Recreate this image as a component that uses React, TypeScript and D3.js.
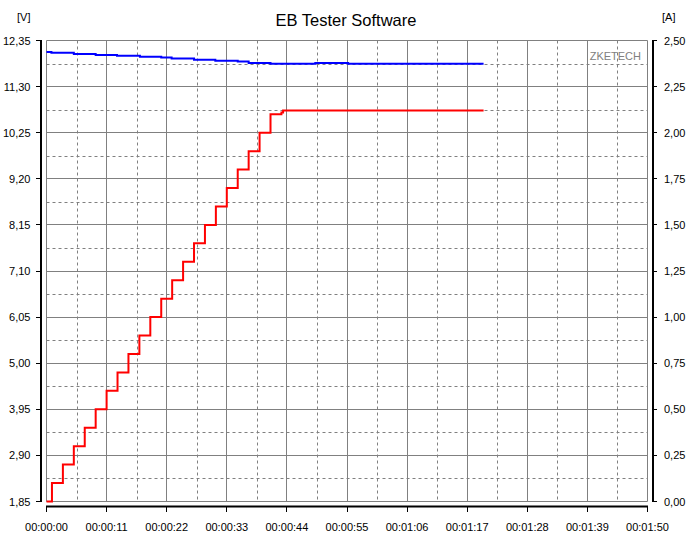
import React from "react";
import * as d3 from "d3";

// Time ticks (seconds) and labels
const timeTicks = [0, 11, 22, 33, 44, 55, 66, 77, 88, 99, 110];
const timeLabels = ["00:00:00", "00:00:11", "00:00:22", "00:00:33", "00:00:44", "00:00:55", "00:01:06", "00:01:17", "00:01:28", "00:01:39", "00:01:50"];
const voltTicks = [1.85, 2.9, 3.95, 5.0, 6.05, 7.1, 8.15, 9.2, 10.25, 11.3, 12.35];
const voltLabels = ["1,85", "2,90", "3,95", "5,00", "6,05", "7,10", "8,15", "9,20", "10,25", "11,30", "12,35"];
const ampTicks = [0, 0.25, 0.5, 0.75, 1.0, 1.25, 1.5, 1.75, 2.0, 2.25, 2.5];
const ampLabels = ["0,00", "0,25", "0,50", "0,75", "1,00", "1,25", "1,50", "1,75", "2,00", "2,25", "2,50"];

// Voltage series (step after)
const voltageT = [0, 0.9, 5, 9, 12.9, 17.1, 21, 22.9, 27, 30.9, 35, 37, 41, 49.2, 55.2, 80];
const voltageV = [12.09, 12.07, 12.04, 12.02, 12.0, 11.98, 11.96, 11.94, 11.91, 11.89, 11.87, 11.84, 11.82, 11.84, 11.82, 11.82];

// Current series (step after)
const currentT = [0, 1, 3, 5, 7, 9, 11, 13, 15, 17, 19, 21, 23, 25, 27, 29, 31, 33, 35, 37, 39, 41, 43, 43.3, 80];
const currentA = [0, 0.1, 0.2, 0.3, 0.4, 0.5, 0.6, 0.7, 0.8, 0.9, 1.0, 1.1, 1.2, 1.3, 1.4, 1.5, 1.6, 1.7, 1.8, 1.9, 2.0, 2.1, 2.11, 2.12, 2.12];

const W = 697;
const H = 547;
const L = 46.5, R = 647.5, T = 40.5, B = 501.5;
const FONT = "'Liberation Sans', Arial, sans-serif";

export default function App() {
  const x = d3.scaleLinear().domain([0, 110]).range([L, R]);
  const yV = d3.scaleLinear().domain([1.85, 12.35]).range([B, T]);
  const yA = d3.scaleLinear().domain([0, 2.5]).range([B, T]);

  const vLine = d3
    .line<number>()
    .x((_, i) => x(voltageT[i]))
    .y((d) => yV(d))
    .curve(d3.curveStepAfter);
  const aLine = d3
    .line<number>()
    .x((_, i) => x(currentT[i]))
    .y((d) => yA(d))
    .curve(d3.curveStepAfter);

  const xMinor = timeTicks.slice(0, -1).map((t, i) => (t + timeTicks[i + 1]) / 2);
  const yMinor = voltTicks.slice(0, -1).map((t, i) => (t + voltTicks[i + 1]) / 2);

  const grid = "#808080";

  return (
    <svg
      width={W}
      height={H}
      style={{ position: "absolute", left: 0, top: 0, background: "#fff" }}
      fontFamily={FONT}
    >
      <rect x={0} y={0} width={W} height={H} fill="#fff" />
      {/* minor dashed grid */}
      {xMinor.map((t, i) => (
        <line key={"xm" + i} x1={Math.round(x(t)) + 0.5} x2={Math.round(x(t)) + 0.5} y1={T} y2={B} stroke={grid} strokeDasharray="3,3" />
      ))}
      {yMinor.map((v, i) => (
        <line key={"ym" + i} x1={L} x2={R} y1={Math.round(yV(v)) + 0.5} y2={Math.round(yV(v)) + 0.5} stroke={grid} strokeDasharray="3,3" />
      ))}
      {/* major grid */}
      {timeTicks.map((t, i) => (
        <line key={"xg" + i} x1={Math.floor(x(t)) + 0.5} x2={Math.floor(x(t)) + 0.5} y1={T} y2={B} stroke={grid} />
      ))}
      {voltTicks.map((v, i) => (
        <line key={"yg" + i} x1={L} x2={R} y1={Math.floor(yV(v)) + 0.5} y2={Math.floor(yV(v)) + 0.5} stroke={grid} />
      ))}

      <text x={641} y={59.5} textAnchor="end" fontSize={11} fill="#808080">ZKETECH</text>

      {/* series */}
      <path d={vLine(voltageV) || ""} fill="none" stroke="#0000ff" strokeWidth={2} />
      <path d={aLine(currentA) || ""} fill="none" stroke="#ff0000" strokeWidth={2} />

      {/* left axis */}
      <line x1={41} x2={41} y1={T - 0.5} y2={B + 0.5} stroke="#000" strokeWidth={2} />
      {voltTicks.map((v, i) => (
        <g key={"yl" + i}>
          <line x1={36} x2={41} y1={Math.floor(yV(v)) + 0.5} y2={Math.floor(yV(v)) + 0.5} stroke="#000" />
          <text x={30.5} y={yV(v) + 4} textAnchor="end" fontSize={11} fill="#000">{voltLabels[i]}</text>
        </g>
      ))}
      {/* right axis */}
      <line x1={653} x2={653} y1={T - 0.5} y2={B + 0.5} stroke="#000" strokeWidth={2} />
      {ampTicks.map((a, i) => (
        <g key={"al" + i}>
          <line x1={653} x2={657} y1={Math.floor(yA(a)) + 0.5} y2={Math.floor(yA(a)) + 0.5} stroke="#000" />
          <text x={664} y={yA(a) + 4} textAnchor="start" fontSize={11} fill="#000">{ampLabels[i]}</text>
        </g>
      ))}
      {/* bottom axis */}
      <line x1={L - 0.5} x2={R + 0.5} y1={506.5} y2={506.5} stroke="#000" strokeWidth={2} />
      {timeTicks.map((t, i) => (
        <g key={"xl" + i}>
          <line x1={Math.floor(x(t)) + 0.5} x2={Math.floor(x(t)) + 0.5} y1={506} y2={512} stroke="#000" />
          <text x={x(t)} y={530.5} textAnchor="middle" fontSize={11} fill="#000">{timeLabels[i]}</text>
        </g>
      ))}

      {/* titles */}
      <text x={346} y={26} textAnchor="middle" fontSize={16.5} fill="#000">EB Tester Software</text>
      <text x={17} y={21} fontSize={11} fill="#000">[V]</text>
      <text x={662} y={21} fontSize={11} fill="#000">[A]</text>
    </svg>
  );
}
